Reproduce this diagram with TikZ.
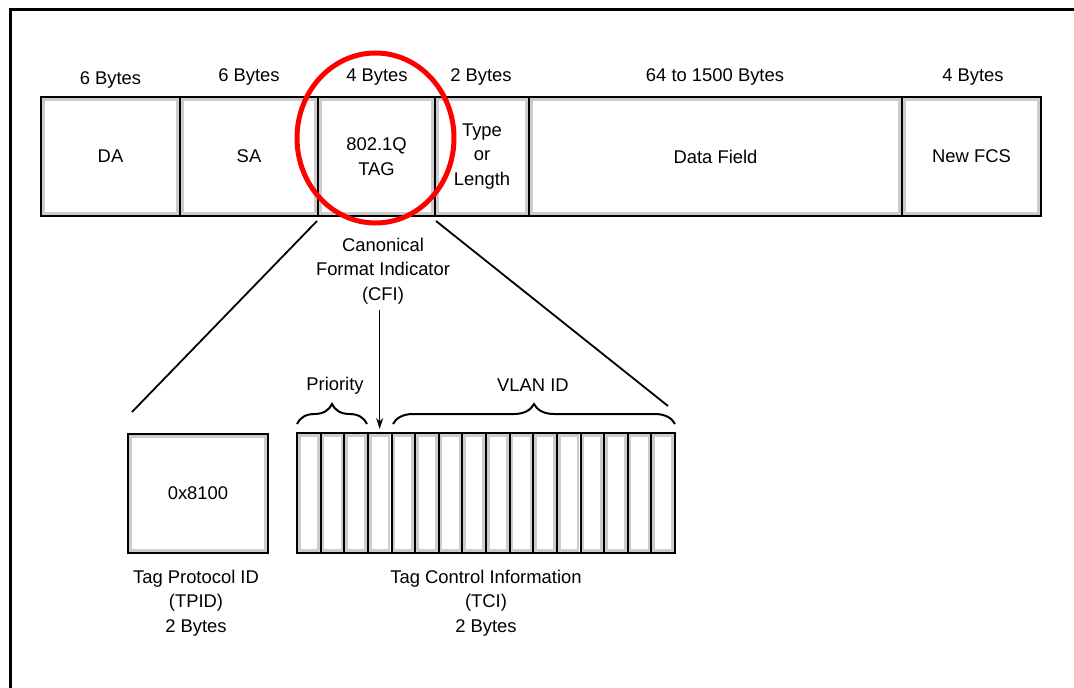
\documentclass[tikz,border=0pt]{standalone}
\usepackage{fontspec}
\setmainfont{Liberation Sans}
\usetikzlibrary{arrows.meta,decorations.pathreplacing,calc}
\tikzset{
  txt/.style={font=\fontsize{18.4}{24.5}\selectfont, align=center, inner sep=0pt},
  field/.style={txt, draw=black, line width=2pt, fill=white, minimum height=119pt,
    path picture={\draw[gray!40, line width=2.6pt]
      ([shift={(2.4pt,-2.4pt)}]path picture bounding box.north west) rectangle
      ([shift={(-2.4pt,2.4pt)}]path picture bounding box.south east);}},
  bit/.style={field, minimum width=23.625pt, minimum height=120pt},
  conn/.style={line width=1.8pt},
  bracestyle/.style={line width=2pt, decorate, decoration={brace, amplitude=20pt}},
}
\begin{document}
\begin{tikzpicture}[x=1pt,y=-1pt]
\useasboundingbox (0,0) rectangle (1074,688);
% outer frame (only top and left visible)
\draw[line width=3pt] (10,720) -- (10,9) -- (1100,9);

% Ethernet frame fields
\node[field, minimum width=139pt] (da)   at (110.5,156.5) {\raisebox{-1.5pt}{DA}};
\node[field, minimum width=138pt] (sa)   at (249,156.5)   {\raisebox{-1.5pt}{SA}};
\node[field, minimum width=117pt] (tag)  at (376.5,156.5) {802.1Q\\TAG};
\node[field, minimum width=94pt]  (type) at (482,156.5)   {Type\\or\\Length};
\node[field, minimum width=373pt] (data) at (715.5,156.5) {\raisebox{-1.5pt}{Data Field}};
\node[field, minimum width=139pt] (fcs)  at (971.5,156.5) {\raisebox{-1.5pt}{New FCS}};

% sizes
\node[txt] (sda)   at (110.5,80) {6 Bytes};
\node[txt] (ssa)   at (249,77)   {6 Bytes};
\node[txt] (stag)  at (377,77)   {4 Bytes};
\node[txt] (stype) at (481,77)   {2 Bytes};
\node[txt] (sdata) at (715,77)   {64 to 1500 Bytes};
\node[txt] (sfcs)  at (973,77)   {4 Bytes};

% red highlight
\draw[red, line width=5pt] (375.5,138) ellipse [x radius=78.5pt, y radius=85pt];

% TPID
\node[field, minimum width=140pt, minimum height=119pt] (tpid) at (198,493.5) {\raisebox{-1.5pt}{0x8100}};

% TCI bits
\foreach \i in {1,...,16}{
  \node[bit] (c\i) at ({297+23.625*(\i-0.5)},493) {};
}

% expansion lines
\coordinate (tpidend) at (132,412);
\coordinate (tciend) at (668,406);
\draw[conn] ([yshift=-4pt]tag.south west) -- (tpidend);
\draw[conn] ([yshift=-4pt]tag.south east) -- (tciend);

% CFI
\node[txt] (cfi) at (383,271) {Canonical\\Format Indicator\\(CFI)};
\draw[line width=1.2pt, -{Stealth[length=11pt,width=7pt]}] ([yshift=-6pt]cfi.south -| c4.north) -- ([yshift=3pt]c4.north);

% braces
\coordinate (pl) at (297,424);
\coordinate (pr) at (367,424);
\coordinate (vl) at (393,424);
\coordinate (vr) at (675,424);
\draw[bracestyle] (pl) -- (pr);
\draw[bracestyle] (vl) -- (vr);
\node[txt] (prio) at (335,386) {Priority};
\node[txt] (vlan) at (533,385) {VLAN ID};

% captions
\node[txt] (tpidcap) at (196,603) {Tag Protocol ID\\(TPID)\\2 Bytes};
\node[txt] (tcicap)  at (486,603) {Tag Control Information\\(TCI)\\2 Bytes};
\end{tikzpicture}
\end{document}
